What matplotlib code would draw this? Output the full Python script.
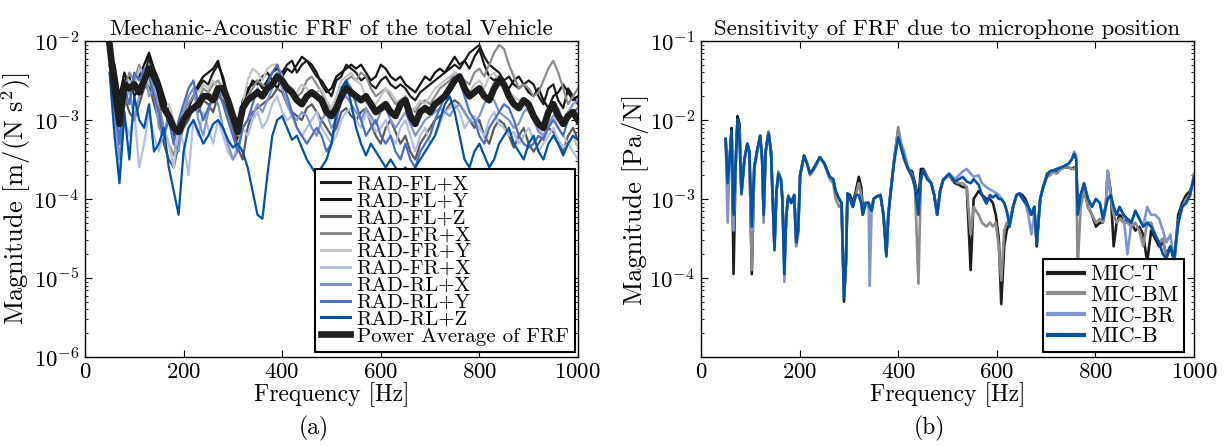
import numpy as np
import matplotlib
matplotlib.use("Agg")
import matplotlib.pyplot as plt

plt.rcParams['font.family'] = ['cmr10', 'DejaVu Serif']
plt.rcParams['mathtext.fontset'] = 'cm'
plt.rcParams['axes.formatter.use_mathtext'] = True

# ---- panel (a): log10 magnitude on a 10 Hz grid, 50..1000 Hz
freq_a = np.arange(50, 1001, 10)

avg = [-2.05, -2.6, -3.05, -2.55, -2.6, -2.55, -2.65, -2.5, -2.35, -2.45,
       -2.6, -2.85, -2.95, -3.1, -3.15, -3.0, -2.9, -2.85, -2.8, -2.7,
       -2.7, -2.75, -2.6, -2.6, -2.75, -2.95, -3.15, -2.85, -2.75, -2.7,
       -2.65, -2.7, -2.6, -2.55, -2.45, -2.5, -2.6, -2.65, -2.75, -2.8,
       -2.7, -2.65, -2.7, -2.75, -2.9, -2.95, -2.85, -2.7, -2.6, -2.65,
       -2.7, -2.75, -2.7, -2.8, -2.9, -2.85, -2.8, -2.9, -2.95, -2.8,
       -2.75, -2.95, -3.05, -2.9, -2.85, -2.9, -2.8, -2.75, -2.7, -2.6,
       -2.5, -2.45, -2.6, -2.7, -2.65, -2.6, -2.7, -2.75, -2.6, -2.5,
       -2.55, -2.7, -2.8, -2.85, -2.75, -2.8, -2.95, -3.05, -3.1, -2.9,
       -2.8, -2.95, -3.05, -2.95, -2.9, -3.0]

fl_x = [-2.1, -2.4, -2.9, -2.5, -2.45, -2.7, -2.6, -2.45, -2.2, -2.5,
        -2.6, -2.8, -3.0, -3.2, -3.1, -2.9, -2.8, -2.7, -2.6, -2.5,
        -2.55, -2.4, -2.3, -2.45, -2.7, -3.0, -3.3, -2.8, -2.6, -2.55,
        -2.5, -2.6, -2.5, -2.4, -2.35, -2.4, -2.3, -2.25, -2.4, -2.3,
        -2.25, -2.35, -2.45, -2.5, -2.6, -2.7, -2.5, -2.45, -2.3, -2.35,
        -2.4, -2.5, -2.45, -2.55, -2.6, -2.5, -2.45, -2.55, -2.6, -2.55,
        -2.6, -2.7, -2.75, -2.65, -2.6, -2.55, -2.5, -2.45, -2.4, -2.35,
        -2.3, -2.35, -2.25, -2.15, -2.1, -2.05, -2.2, -2.3, -2.35, -2.4,
        -2.5, -2.45, -2.55, -2.6, -2.55, -2.5, -2.55, -2.7, -2.8, -2.6,
        -2.55, -2.75, -2.85, -2.6, -2.7, -2.8]

fl_y = [-2.15, -2.3, -2.7, -2.4, -2.6, -2.5, -2.45, -2.3, -2.15, -2.35,
        -2.5, -2.7, -2.9, -3.05, -3.2, -3.0, -2.85, -2.7, -2.55, -2.45,
        -2.4, -2.35, -2.25, -2.5, -2.75, -2.9, -3.15, -2.75, -2.65, -2.5,
        -2.55, -2.45, -2.4, -2.5, -2.6, -2.45, -2.35, -2.4, -2.3, -2.2,
        -2.25, -2.3, -2.4, -2.55, -2.65, -2.6, -2.45, -2.4, -2.35, -2.3,
        -2.35, -2.3, -2.4, -2.5, -2.45, -2.3, -2.35, -2.45, -2.5, -2.45,
        -2.55, -2.6, -2.65, -2.55, -2.45, -2.5, -2.4, -2.35, -2.4, -2.3,
        -2.2, -2.3, -2.25, -2.35, -2.2, -2.1, -2.3, -2.45, -2.5, -2.45,
        -2.55, -2.6, -2.5, -2.45, -2.55, -2.65, -2.7, -2.6, -2.75, -2.85,
        -2.7, -2.65, -2.55, -2.65, -2.75, -2.7]

fl_z = [-2.3, -2.8, -3.3, -2.7, -2.9, -3.0, -2.8, -2.6, -2.55, -2.8,
        -3.0, -3.3, -3.5, -3.6, -3.3, -3.1, -3.0, -2.85, -2.9, -2.75,
        -2.8, -2.9, -2.7, -2.75, -2.9, -3.1, -3.35, -3.5, -3.1, -2.9,
        -2.85, -2.8, -2.75, -2.7, -2.6, -2.65, -2.8, -2.9, -2.95, -3.0,
        -2.85, -2.8, -2.9, -3.0, -3.1, -3.2, -3.1, -2.9, -2.85, -2.95,
        -3.0, -2.9, -2.85, -3.05, -3.2, -3.3, -3.1, -3.0, -3.15, -3.3,
        -3.2, -3.4, -3.5, -3.3, -3.2, -3.1, -3.0, -2.95, -2.9, -2.8,
        -2.75, -2.8, -2.9, -3.0, -3.1, -3.0, -3.2, -3.3, -3.1, -3.0,
        -3.05, -3.2, -3.35, -3.2, -3.1, -3.3, -3.4, -3.3, -3.2, -3.1,
        -3.15, -3.3, -3.4, -3.2, -3.1, -3.25]

fr_x = [-2.2, -2.5, -3.3, -2.6, -2.4, -2.5, -2.3, -2.5, -2.3, -2.6,
        -2.8, -3.1, -3.3, -3.45, -3.2, -3.0, -2.8, -2.7, -2.75, -2.6,
        -2.65, -2.55, -2.5, -2.6, -2.8, -3.0, -3.2, -2.9, -2.7, -2.6,
        -2.5, -2.55, -2.6, -2.5, -2.4, -2.5, -2.55, -2.6, -2.7, -2.65,
        -2.5, -2.45, -2.55, -2.65, -2.8, -2.9, -2.8, -2.6, -2.5, -2.45,
        -2.5, -2.4, -2.45, -2.6, -2.7, -2.65, -2.6, -2.7, -2.8, -2.75,
        -2.7, -2.85, -2.9, -2.8, -2.75, -2.8, -2.7, -2.6, -2.55, -2.5,
        -2.4, -2.45, -2.5, -2.55, -2.4, -2.35, -2.45, -2.3, -2.15, -2.05,
        -2.1, -2.3, -2.45, -2.6, -2.55, -2.6, -2.7, -2.65, -2.5, -2.35,
        -2.25, -2.4, -2.6, -2.8, -2.7, -2.6]

fr_y = [-2.3, -2.6, -3.1, -2.8, -2.5, -2.6, -2.35, -2.4, -2.55, -2.6,
        -2.7, -2.9, -2.8, -3.0, -3.15, -2.9, -2.7, -2.6, -2.65, -2.55,
        -2.6, -2.5, -2.6, -2.7, -2.75, -2.9, -3.0, -2.8, -2.5, -2.35,
        -2.4, -2.5, -2.35, -2.3, -2.3, -2.45, -2.6, -2.7, -2.65, -2.55,
        -2.6, -2.7, -2.65, -2.6, -2.75, -2.85, -2.7, -2.5, -2.45, -2.4,
        -2.5, -2.55, -2.7, -2.75, -2.8, -2.7, -2.6, -2.65, -2.75, -2.8,
        -2.75, -2.9, -2.85, -2.75, -2.8, -2.7, -2.6, -2.55, -2.5, -2.45,
        -2.4, -2.5, -2.6, -2.65, -2.55, -2.5, -2.6, -2.45, -2.4, -2.5,
        -2.6, -2.65, -2.7, -2.75, -2.8, -2.9, -3.0, -3.1, -3.2, -3.05,
        -2.95, -3.1, -3.2, -3.3, -3.2, -3.35]

fr_x2 = [-2.4, -3.1, -3.7, -3.0, -3.2, -2.9, -3.6, -3.3, -2.9, -3.2,
         -3.4, -3.1, -3.3, -3.6, -3.1, -3.3, -3.7, -3.0, -3.2, -2.9,
         -3.1, -3.3, -3.0, -3.2, -3.4, -3.5, -3.3, -3.1, -3.2, -3.0,
         -2.9, -3.1, -3.0, -2.8, -2.7, -2.9, -3.0, -2.95, -3.1, -3.2,
         -3.1, -3.0, -2.9, -3.1, -3.2, -3.3, -3.2, -3.0, -2.9, -2.85,
         -3.0, -3.1, -2.9, -3.0, -3.15, -3.1, -3.0, -3.2, -3.3, -3.1,
         -3.0, -3.2, -3.4, -3.2, -3.1, -3.3, -3.2, -3.05, -2.9, -2.85,
         -2.8, -2.9, -3.1, -3.0, -2.95, -3.1, -3.2, -3.0, -2.9, -3.05,
         -3.1, -3.2, -3.15, -3.3, -3.2, -3.1, -3.25, -3.4, -3.3, -3.2,
         -3.1, -3.25, -3.35, -3.3, -3.4, -3.5]

rl_x = [-2.2, -2.9, -3.5, -2.8, -2.6, -3.0, -2.7, -2.4, -2.7, -2.6,
        -3.1, -3.2, -2.9, -3.3, -3.4, -2.9, -2.7, -2.6, -3.0, -3.2,
        -2.9, -2.7, -2.8, -3.1, -3.3, -3.5, -3.4, -3.1, -3.0, -2.95,
        -2.8, -2.9, -2.75, -2.6, -2.4, -2.6, -2.8, -2.95, -3.0, -2.9,
        -2.95, -3.1, -3.2, -3.0, -2.9, -3.1, -3.0, -2.75, -2.7, -2.8,
        -2.9, -3.0, -2.85, -2.95, -3.05, -2.9, -2.85, -3.0, -3.1, -3.0,
        -2.9, -3.05, -3.2, -3.1, -3.0, -2.95, -2.9, -2.85, -2.9, -2.95,
        -2.85, -2.8, -2.9, -3.0, -3.05, -2.95, -2.8, -2.7, -2.75, -2.9,
        -2.95, -3.0, -3.1, -3.05, -2.9, -2.85, -3.0, -3.15, -3.2, -3.05,
        -2.95, -2.85, -3.0, -2.9, -2.8, -2.75]

rl_y = [-2.0, -2.7, -3.3, -2.6, -2.8, -2.4, -2.5, -2.35, -2.45, -2.7,
        -2.9, -3.2, -3.0, -3.3, -3.0, -2.8, -2.6, -2.5, -2.8, -3.0,
        -2.85, -2.7, -2.6, -2.8, -3.0, -3.2, -3.4, -3.1, -3.0, -2.8,
        -2.6, -2.7, -2.55, -2.4, -2.3, -2.5, -2.7, -2.9, -3.1, -3.2,
        -3.3, -3.2, -3.1, -3.2, -3.4, -3.3, -3.0, -2.7, -2.5, -2.6,
        -2.8, -3.0, -3.2, -3.1, -3.0, -3.2, -3.3, -3.2, -3.4, -3.5,
        -3.3, -3.5, -3.6, -3.4, -3.3, -3.2, -3.0, -2.85, -2.7, -2.55,
        -2.45, -2.5, -2.7, -2.9, -3.0, -3.2, -3.3, -3.1, -3.0, -2.9,
        -2.8, -2.85, -3.0, -3.2, -3.3, -3.35, -3.3, -3.2, -3.25, -3.1,
        -3.0, -3.1, -3.2, -3.0, -2.9, -2.85]

rl_z = [-2.4, -3.2, -3.8, -2.9, -3.5, -2.7, -3.0, -3.1, -2.8, -3.4,
        -3.3, -3.1, -3.6, -3.9, -4.2, -3.4, -3.1, -3.0, -3.15, -3.3,
        -3.2, -3.05, -3.0, -3.1, -3.25, -3.35, -3.3, -3.4, -3.6, -3.9,
        -4.2, -4.25, -3.7, -3.2, -3.0, -2.95, -3.1, -3.25, -3.2, -3.35,
        -3.5, -3.6, -3.7, -3.6, -3.5, -3.3, -2.9, -2.6, -2.5, -2.8,
        -3.1, -3.3, -3.45, -3.3, -3.4, -3.5, -3.6, -3.5, -3.6, -3.7,
        -3.6, -3.7, -3.6, -3.5, -3.4, -3.3, -3.2, -3.0, -2.8, -2.7,
        -2.9, -3.2, -3.5, -3.6, -3.4, -3.3, -3.45, -3.6, -3.5, -3.3,
        -3.2, -3.1, -3.3, -3.4, -3.5, -3.3, -3.2, -3.4, -3.5, -3.3,
        -3.2, -3.3, -3.45, -3.3, -3.2, -3.25]

labels_a = ['RAD-FL+X', 'RAD-FL+Y', 'RAD-FL+Z', 'RAD-FR+X', 'RAD-FR+Y',
            'RAD-FR+X', 'RAD-RL+X', 'RAD-RL+Y', 'RAD-RL+Z']
series_a = [fl_x, fl_y, fl_z, fr_x, fr_y, fr_x2, rl_x, rl_y, rl_z]
colors_a = ['#1e1e1e', '#141414', '#5a5a5a', '#8c8c8c', '#c4c4c4',
            '#b3bfe0', '#7f95d0', '#4a6fc0', '#0052a5']

# ---- panel (b): log10 magnitude, shared frequency points
freq_b = [50, 54, 58, 62, 66, 70, 74, 78, 82, 88,
          94, 98, 103, 108, 114, 120, 124, 127, 131, 137,
          142, 149, 153, 157, 162, 165, 169, 173, 177, 183,
          189, 193, 197, 201, 209, 215, 221, 230, 241, 250,
          261, 268, 273, 280, 285, 290, 294, 297, 302, 308,
          314, 320, 325, 328, 334, 340, 342, 346, 350, 356,
          364, 370, 376, 380, 384, 392, 400, 406, 412, 420,
          428, 434, 441, 446, 451, 459, 467, 473, 479, 485,
          491, 503, 515, 523, 531, 539, 547, 553, 563, 570,
          579, 586, 592, 598, 604, 609, 615, 620, 626, 633,
          640, 646, 652, 658, 664, 670, 676, 681, 688, 694,
          702, 708, 714, 722, 730, 738, 746, 752, 757, 761,
          764, 770, 777, 785, 793, 801, 809, 815, 821, 825,
          831, 837, 843, 849, 857, 865, 873, 881, 889, 897,
          905, 913, 921, 929, 937, 944, 952, 960, 968, 976,
          984, 992, 1000]

mic_t = [-2.24, -2.8, -2.5, -2.1, -3.95, -2.6, -1.95, -2.05, -2.93, -2.5,
         -2.3, -2.4, -3.95, -2.6, -2.38, -2.2, -2.5, -3.2, -2.4, -2.15,
         -2.4, -3.6, -2.9, -2.68, -2.75, -3.0, -3.8, -3.2, -2.97, -3.05,
         -2.95, -3.5, -3.4, -2.7, -2.45, -2.55, -2.68, -2.6, -2.47, -2.55,
         -2.72, -2.75, -2.9, -3.0, -3.05, -4.3, -3.8, -2.93, -2.95, -3.05,
         -2.9, -2.72, -2.85, -3.1, -3.05, -3.05, -3.1, -3.15, -3.0, -2.97,
         -2.95, -3.2, -3.7, -3.2, -2.95, -2.5, -2.12, -2.35, -2.5, -2.62,
         -2.65, -2.8, -3.0, -2.62, -2.62, -2.72, -2.8, -2.95, -3.2, -2.9,
         -2.76, -2.7, -2.8, -2.82, -2.85, -2.85, -3.9, -3.0, -2.9, -2.95,
         -3.0, -3.0, -3.05, -3.2, -3.5, -4.33, -3.6, -3.4, -3.3, -3.1,
         -2.95, -2.93, -2.95, -3.0, -3.1, -3.2, -3.1, -3.6, -3.0, -2.85,
         -2.68, -2.65, -2.64, -2.66, -2.62, -2.6, -2.6, -2.62, -2.6, -2.62,
         -3.0, -2.95, -2.85, -3.1, -3.2, -3.35, -3.3, -3.3, -3.1, -2.65,
         -2.9, -3.6, -3.3, -3.2, -3.25, -3.3, -3.3, -3.4, -3.35, -3.45,
         -3.8, -3.4, -3.5, -3.6, -3.55, -3.7, -3.6, -3.8, -3.2, -3.05,
         -2.95, -2.9, -2.75]

mic_bm = [-2.25, -2.75, -2.5, -2.15, -3.2, -2.6, -2.0, -2.15, -2.9, -2.5,
          -2.3, -2.45, -3.9, -2.6, -2.4, -2.2, -2.5, -3.3, -2.4, -2.15,
          -2.45, -3.6, -2.9, -2.65, -2.75, -3.0, -3.8, -3.2, -2.95, -3.05,
          -2.95, -3.6, -3.45, -2.7, -2.45, -2.55, -2.7, -2.62, -2.48, -2.55,
          -2.75, -2.8, -3.0, -3.1, -3.05, -4.2, -3.8, -2.95, -3.0, -3.1,
          -2.95, -2.8, -2.95, -3.2, -3.05, -3.1, -3.1, -3.15, -3.0, -2.97,
          -2.95, -3.2, -3.7, -3.2, -2.95, -2.48, -2.09, -2.3, -2.5, -2.62,
          -2.7, -2.85, -4.07, -2.75, -2.64, -2.72, -2.8, -2.95, -3.2, -2.9,
          -2.76, -2.7, -2.78, -2.8, -2.8, -2.85, -3.45, -3.1, -3.2, -3.3,
          -3.35, -3.3, -3.35, -3.3, -3.6, -4.03, -3.4, -3.3, -3.3, -3.1,
          -2.95, -2.93, -3.0, -3.05, -3.1, -3.2, -3.1, -3.55, -3.0, -2.85,
          -2.72, -2.7, -2.66, -2.68, -2.62, -2.6, -2.6, -2.62, -2.62, -2.6,
          -3.9, -3.1, -2.9, -3.1, -3.2, -3.3, -3.25, -3.3, -3.1, -2.64,
          -3.0, -3.2, -3.3, -3.25, -3.3, -3.3, -3.35, -3.3, -3.4, -3.6,
          -3.3, -3.3, -3.45, -3.55, -3.5, -3.75, -3.6, -3.7, -3.3, -3.1,
          -3.0, -2.95, -2.7]

mic_br = [-2.3, -3.3, -2.55, -2.15, -3.4, -2.6, -2.05, -2.2, -2.95, -2.5,
          -2.3, -2.4, -3.4, -2.6, -2.4, -2.2, -2.5, -3.15, -2.4, -2.2,
          -2.4, -3.6, -2.9, -2.7, -2.75, -3.0, -4.05, -3.2, -2.97, -3.05,
          -2.95, -3.55, -3.4, -2.7, -2.45, -2.55, -2.68, -2.6, -2.47, -2.55,
          -2.72, -2.75, -2.9, -3.0, -3.05, -4.2, -3.8, -2.93, -3.0, -3.1,
          -2.95, -2.95, -3.05, -3.2, -3.05, -3.05, -4.1, -3.15, -3.0, -2.97,
          -2.95, -3.2, -3.7, -3.2, -2.95, -2.5, -2.2, -2.3, -2.4, -2.6,
          -2.7, -2.85, -3.15, -2.75, -2.64, -2.75, -2.8, -2.95, -3.2, -2.9,
          -2.76, -2.68, -2.75, -2.7, -2.65, -2.62, -2.68, -2.72, -2.7, -2.8,
          -2.85, -2.88, -2.9, -2.92, -2.95, -3.0, -3.05, -3.15, -3.3, -3.1,
          -2.95, -2.93, -3.0, -3.05, -3.2, -3.45, -3.2, -3.5, -3.0, -2.85,
          -2.7, -2.65, -2.64, -2.62, -2.6, -2.58, -2.55, -2.5, -2.4, -2.45,
          -3.15, -2.95, -2.8, -3.0, -3.1, -3.0, -3.05, -3.2, -3.1, -2.65,
          -2.95, -3.1, -3.2, -3.1, -3.2, -3.7, -3.3, -3.15, -3.25, -3.35,
          -3.1, -3.2, -3.2, -3.25, -3.4, -3.55, -3.45, -3.8, -3.3, -3.1,
          -3.05, -2.95, -2.68]

mic_b = [-2.24, -2.8, -2.5, -2.13, -3.2, -2.6, -2.0, -2.2, -2.93, -2.5,
         -2.3, -2.4, -3.35, -2.6, -2.38, -2.2, -2.5, -3.2, -2.4, -2.17,
         -2.4, -3.65, -2.9, -2.68, -2.75, -3.0, -3.95, -3.2, -2.97, -3.05,
         -2.95, -3.55, -3.4, -2.7, -2.45, -2.55, -2.68, -2.6, -2.47, -2.55,
         -2.72, -2.75, -2.9, -3.0, -3.05, -4.25, -3.8, -2.93, -3.0, -3.1,
         -2.95, -2.95, -3.05, -3.2, -3.05, -3.05, -3.1, -3.15, -3.0, -2.97,
         -2.95, -3.2, -3.73, -3.2, -2.95, -2.51, -2.22, -2.35, -2.48, -2.62,
         -2.72, -2.85, -3.2, -2.75, -2.64, -2.75, -2.8, -2.95, -3.2, -2.9,
         -2.76, -2.68, -2.78, -2.75, -2.72, -2.78, -2.8, -2.75, -2.82, -2.95,
         -3.06, -2.95, -2.98, -2.95, -3.0, -3.0, -3.05, -3.15, -3.35, -3.1,
         -2.95, -2.93, -3.0, -3.05, -3.1, -3.2, -3.1, -3.57, -3.0, -2.85,
         -2.7, -2.65, -2.64, -2.62, -2.6, -2.58, -2.55, -2.5, -2.43, -2.5,
         -3.2, -2.95, -2.8, -3.0, -3.1, -3.0, -3.05, -3.25, -3.1, -3.0,
         -2.95, -3.1, -3.2, -3.1, -3.2, -3.25, -3.3, -3.15, -3.25, -3.35,
         -3.3, -3.35, -3.45, -3.55, -3.7, -3.75, -3.6, -3.75, -3.3, -3.1,
         -3.05, -2.95, -2.72]

labels_b = ['MIC-T', 'MIC-BM', 'MIC-BR', 'MIC-B']
series_b = [mic_t, mic_bm, mic_br, mic_b]
colors_b = ['#1e1e1e', '#8c8c8c', '#7f95d0', '#0052a5']


def style_axes(ax, ylim, yticks):
    ax.set_yscale('log')
    ax.set_xlim(0, 1000)
    ax.set_ylim(*ylim)
    ax.set_xticks([0, 200, 400, 600, 800, 1000])
    ax.set_yticks(yticks)
    ax.tick_params(which='both', direction='in', top=True, right=True,
                   labelsize=16.5)
    ax.tick_params(which='major', length=5, pad=4)
    ax.tick_params(which='minor', length=2.5)
    for s in ax.spines.values():
        s.set_linewidth(1.0)
    ax.set_xlabel('Frequency [Hz]', fontsize=17, labelpad=0)


fig = plt.figure(figsize=(12.26, 4.46), dpi=100)

ax1 = fig.add_axes([0.0693, 0.1996, 0.4021, 0.7085])
for vals, lab, col in zip(series_a, labels_a, colors_a):
    ax1.plot(freq_a, 10.0 ** np.array(vals), color=col, lw=1.6, label=lab)
ax1.plot(freq_a, 10.0 ** np.array(avg), color='#1e1e1e', lw=4.8,
         label='Power Average of FRF')
style_axes(ax1, (1e-6, 1e-2), [1e-6, 1e-5, 1e-4, 1e-3, 1e-2])
ax1.set_ylabel(r'Magnitude [m/(N s$^2$)]', fontsize=19, labelpad=0)
ax1.set_title('Mechanic-Acoustic FRF of the total Vehicle', fontsize=16.5,
              pad=4)
leg1 = ax1.legend(loc='lower right', bbox_to_anchor=(0.994, 0.016),
                  fontsize=15, handlelength=1.4, handletextpad=0.3,
                  labelspacing=-0.08, borderpad=0.3, borderaxespad=0,
                  fancybox=False, framealpha=1, edgecolor='black')
leg1.get_frame().set_linewidth(1.5)
for h in leg1.get_lines()[:-1]:
    h.set_linewidth(2.2)

ax2 = fig.add_axes([0.5718, 0.1996, 0.4021, 0.7085])
for vals, lab, col in zip(series_b, labels_b, colors_b):
    ax2.plot(freq_b, 10.0 ** np.array(vals), color=col, lw=1.9, label=lab)
style_axes(ax2, (1e-5, 1e-1), [1e-4, 1e-3, 1e-2, 1e-1])
ax2.set_ylabel('Magnitude [Pa/N]', fontsize=19, labelpad=0)
ax2.set_title('Sensitivity of FRF due to microphone position', fontsize=16.5,
              pad=4)
leg2 = ax2.legend(loc='lower right', bbox_to_anchor=(0.98, 0.016),
                  fontsize=16, handlelength=1.6, handletextpad=0.3,
                  labelspacing=0.05, borderpad=0.25, borderaxespad=0,
                  fancybox=False, framealpha=1, edgecolor='black')
leg2.get_frame().set_linewidth(1.5)
for h in leg2.get_lines():
    h.set_linewidth(3)

fig.text(0.256, 0.025, '(a)', fontsize=17, ha='center')
fig.text(0.758, 0.025, '(b)', fontsize=17, ha='center')

fig.savefig('out.png', dpi=100)
